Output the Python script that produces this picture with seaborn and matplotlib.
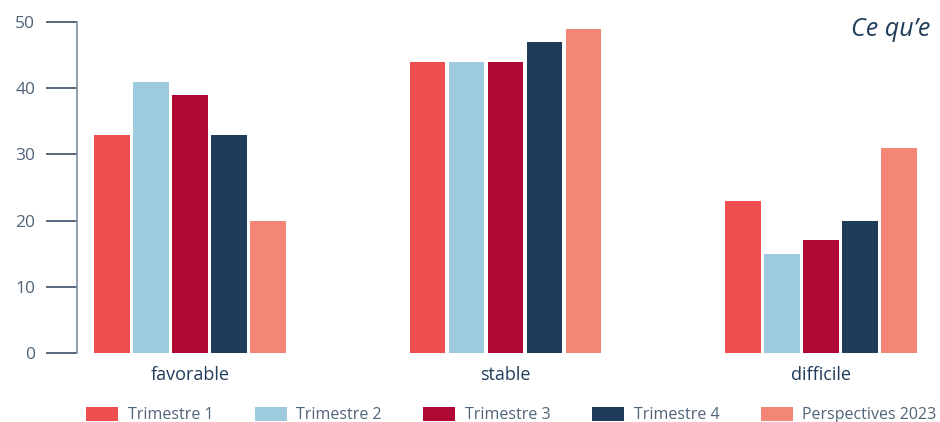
import pandas as pd
import seaborn as sns
import matplotlib.pyplot as plt

categories = ['favorable', 'stable', 'difficile']
series = ['Trimestre 1', 'Trimestre 2', 'Trimestre 3', 'Trimestre 4', 'Perspectives 2023']
trimestre_1 = [33, 44, 23]
trimestre_2 = [41, 44, 15]
trimestre_3 = [39, 44, 17]
trimestre_4 = [33, 47, 20]
perspectives_2023 = [20, 49, 31]
colors = ['#F04E4E', '#9ECAE0', '#B00833', '#1F3C5A', '#F48675']

values = [trimestre_1, trimestre_2, trimestre_3, trimestre_4, perspectives_2023]
rows = []
for name, vals in zip(series, values):
    for cat, v in zip(categories, vals):
        rows.append({'categorie': cat, 'serie': name, 'valeur': v})
df = pd.DataFrame(rows)

sns.set_style('white')
plt.rcParams['font.family'] = ['Open Sans', 'DejaVu Sans']

fig = plt.figure(figsize=(9.4, 4.22), dpi=100)
ax = fig.add_axes([77 / 940, 1 - 353 / 422, 1 - 77 / 940, (353 - 22) / 422])

sns.barplot(data=df, x='categorie', y='valeur', hue='serie', order=categories,
            hue_order=series, palette=colors, width=0.618, gap=0.08,
            saturation=1, linewidth=0, ax=ax)

ax.set_ylim(0, 50)
ax.set_xlim(-0.358, 2.377)
ax.set_yticks(range(0, 51, 10))
ax.set_xlabel('')
ax.set_ylabel('')

for side in ['top', 'right', 'bottom']:
    ax.spines[side].set_visible(False)
ax.spines['left'].set_color('#7F8FA0')
ax.spines['left'].set_linewidth(1.2)

# seaborn's white style hides the tick marks, bring the y ones back
ax.tick_params(axis='y', left=True, direction='out', length=22, width=1.2,
               color='#3A4E66', labelsize=12.5, labelcolor='#4F6479', pad=8)
ax.tick_params(axis='x', bottom=False, labelsize=13, labelcolor='#1F3C5A', pad=6)

handles, labels = ax.get_legend_handles_labels()
ax.get_legend().remove()
fig.legend(handles, labels, ncol=5, loc='center left',
           bbox_to_anchor=(86 / 940, 1 - 415 / 422), frameon=False,
           fontsize=11.5, labelcolor='#4F6479', handlelength=2.0,
           handleheight=1.0, handletextpad=0.6, columnspacing=2.6,
           borderpad=0, borderaxespad=0)

fig.text(851 / 940, 1 - 30 / 422, 'Ce qu’e', fontsize=18, style='italic',
         color='#1F3C5A', ha='left', va='center')

fig.savefig('out.png', dpi=100)
